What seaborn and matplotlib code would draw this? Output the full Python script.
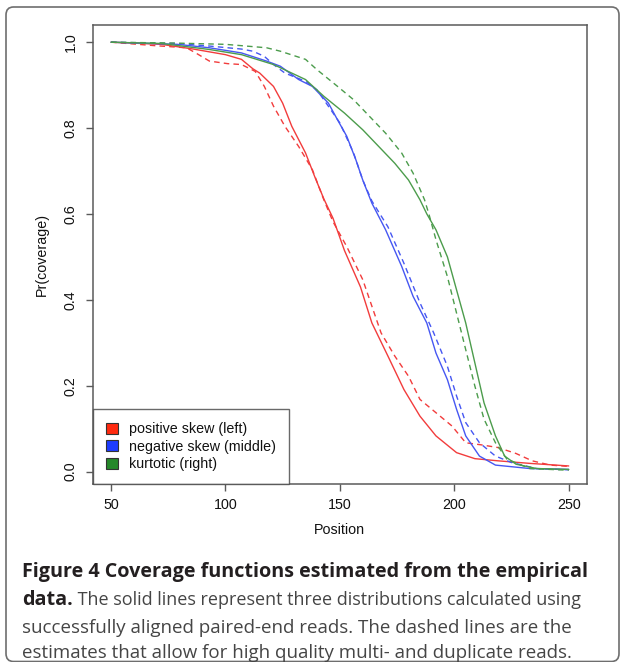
import numpy as np
import pandas as pd
import matplotlib
matplotlib.use("Agg")
import matplotlib.pyplot as plt
from matplotlib.patches import Patch, FancyBboxPatch
import seaborn as sns

# ---- data ----
red_solid_pos = [50, 72, 86, 100, 107, 112, 115, 121, 125, 129, 135, 139, 143, 147, 152, 159, 164, 171, 178, 185, 192, 201, 209, 219, 233, 250]
red_solid_val = [1.0, 0.995, 0.984, 0.971, 0.96, 0.938, 0.928, 0.897, 0.858, 0.804, 0.742, 0.687, 0.635, 0.59, 0.515, 0.43, 0.346, 0.269, 0.191, 0.129, 0.083, 0.044, 0.03, 0.025, 0.019, 0.013]

red_dash_pos = [50, 69, 83, 87, 93, 101, 107, 113, 117, 121, 126, 132, 138, 143, 147, 153, 160, 168, 174, 180, 185, 192, 199, 205, 212, 219, 227, 234, 242, 250]
red_dash_val = [1.0, 0.992, 0.987, 0.975, 0.956, 0.95, 0.948, 0.932, 0.897, 0.851, 0.804, 0.757, 0.703, 0.633, 0.582, 0.524, 0.447, 0.323, 0.269, 0.222, 0.168, 0.137, 0.106, 0.067, 0.062, 0.056, 0.042, 0.025, 0.015, 0.012]

blue_solid_pos = [50, 79, 93, 107, 118, 124, 132, 138, 145, 149, 153, 157, 160, 164, 170, 177, 182, 188, 192, 197, 201, 205, 211, 218, 233, 250]
blue_solid_val = [1.0, 0.995, 0.987, 0.975, 0.956, 0.944, 0.913, 0.897, 0.858, 0.819, 0.781, 0.726, 0.679, 0.625, 0.563, 0.478, 0.408, 0.346, 0.276, 0.214, 0.145, 0.083, 0.036, 0.015, 0.007, 0.005]

blue_dash_pos = [50, 79, 93, 107, 112, 117, 121, 126, 135, 140, 146, 150, 156, 160, 164, 171, 178, 185, 191, 197, 201, 205, 211, 218, 225, 236, 250]
blue_dash_val = [1.0, 0.997, 0.991, 0.984, 0.979, 0.967, 0.948, 0.928, 0.909, 0.889, 0.843, 0.812, 0.742, 0.679, 0.63, 0.57, 0.485, 0.393, 0.323, 0.245, 0.176, 0.114, 0.067, 0.036, 0.021, 0.007, 0.004]

green_solid_pos = [50, 72, 93, 107, 121, 135, 143, 152, 160, 167, 174, 180, 185, 188, 192, 197, 201, 205, 209, 213, 218, 222, 227, 236, 250]
green_solid_val = [1.0, 0.997, 0.983, 0.971, 0.948, 0.913, 0.874, 0.835, 0.796, 0.757, 0.718, 0.679, 0.633, 0.6, 0.563, 0.5, 0.423, 0.346, 0.253, 0.16, 0.083, 0.036, 0.017, 0.007, 0.005]

green_dash_pos = [50, 78, 100, 118, 124, 135, 140, 149, 156, 163, 170, 177, 182, 187, 189, 192, 197, 201, 205, 209, 213, 218, 223, 233, 250]
green_dash_val = [1.0, 0.998, 0.995, 0.987, 0.979, 0.96, 0.936, 0.897, 0.866, 0.827, 0.788, 0.742, 0.695, 0.633, 0.598, 0.54, 0.454, 0.369, 0.284, 0.199, 0.122, 0.067, 0.029, 0.007, 0.003]

categories = ["positive skew (left)", "negative skew (middle)", "kurtotic (right)"]
estimates = ["aligned paired-end", "with multi/duplicate"]
x_ticks = [50, 100, 150, 200, 250]
y_ticks = [0.0, 0.2, 0.4, 0.6, 0.8, 1.0]

series = [
    (categories[0], estimates[0], red_solid_pos, red_solid_val),
    (categories[0], estimates[1], red_dash_pos, red_dash_val),
    (categories[1], estimates[0], blue_solid_pos, blue_solid_val),
    (categories[1], estimates[1], blue_dash_pos, blue_dash_val),
    (categories[2], estimates[0], green_solid_pos, green_solid_val),
    (categories[2], estimates[1], green_dash_pos, green_dash_val),
]
rows = []
for cat, est, xs, ys in series:
    for x, y in zip(xs, ys):
        rows.append({"Position": x, "coverage": y, "dist": cat, "est": est})
df = pd.DataFrame(rows)

# ---- styling ----
sns.set_theme(style="white")
plt.rcParams["font.family"] = ["Liberation Sans", "DejaVu Sans"]

line_colors = {categories[0]: "#F23C3C", categories[1]: "#4657F2", categories[2]: "#4C9C4C"}
patch_colors = ["#FF2A10", "#1E3CFF", "#25882A"]
axis_col = "#5A5A5A"

fig = plt.figure(figsize=(6.24, 6.62), dpi=100)
ax = fig.add_axes([0.1486, 0.2689, 0.7921, 0.6933])

sns.lineplot(data=df, x="Position", y="coverage", hue="dist", style="est",
             palette=line_colors, dashes={estimates[0]: "", estimates[1]: (4, 3)},
             estimator=None, sort=False, linewidth=1.0, legend=False, ax=ax)

ax.set_xlim(42, 258)
ax.set_ylim(-0.029, 1.04)
ax.set_xticks(x_ticks)
ax.set_xticklabels([str(t) for t in x_ticks])
ax.set_yticks(y_ticks)
ax.set_yticklabels([f"{t:.1f}" for t in y_ticks])
ax.set_xlabel("Position", fontsize=10.3, labelpad=8, color="#111111")
ax.set_ylabel("Pr(coverage)", fontsize=10.3, labelpad=11, color="#111111")
for s in ax.spines.values():
    s.set_color(axis_col)
    s.set_linewidth(1.1)
ax.tick_params(axis="both", direction="out", length=5.2, width=1.0, color=axis_col,
               labelsize=10.3, labelcolor="#111111", bottom=True, left=True)
ax.tick_params(axis="x", pad=5)
ax.tick_params(axis="y", pad=5.5, labelrotation=90)
for lab in ax.get_yticklabels():
    lab.set_va("center")

handles = [Patch(facecolor=c, edgecolor="#333333", linewidth=0.8) for c in patch_colors]
leg = ax.legend(handles, categories, loc="lower left", bbox_to_anchor=(0, 0),
                borderaxespad=0, frameon=True, fancybox=False, fontsize=10.3,
                handlelength=0.9, handleheight=0.8, handletextpad=0.75,
                borderpad=0.9, labelspacing=0.24)
leg.get_frame().set_edgecolor("#444444")
leg.get_frame().set_linewidth(1.0)
for t in leg.get_texts():
    t.set_color("#111111")

# ---- outer frame ----
frame = FancyBboxPatch((6 / 624, 1 - 661.5 / 662), 613 / 624, 654.5 / 662,
                       boxstyle="round,pad=0,rounding_size=0.012",
                       transform=fig.transFigure, facecolor="none",
                       edgecolor="#6E6E6E", linewidth=1.2, zorder=0)
fig.patches.append(frame)

# ---- caption ----
cap_font = ["Open Sans", "DejaVu Sans"]
bold_size = 14.2
reg_size = 13.5
x0 = 22 / 624
bold_col = "#231F20"
reg_col = "#454545"
base = [577, 605, 633, 657.5]
fig.text(x0, 1 - base[0] / 662, "Figure 4 Coverage functions estimated from the empirical",
         family=cap_font, weight="bold", fontsize=bold_size, color=bold_col, va="baseline")
t_b = fig.text(x0, 1 - base[1] / 662, "data.", family=cap_font, weight="bold",
               fontsize=bold_size, color=bold_col, va="baseline")
ann = plt.annotate(" The solid lines represent three distributions calculated using",
                   xy=(1, 1 - base[1] / 662), xycoords=(t_b, "figure fraction"),
                   family=cap_font, fontsize=13.0, color=reg_col, va="baseline",
                   annotation_clip=False)
fig.text(x0, 1 - base[2] / 662, "successfully aligned paired-end reads. The dashed lines are the",
         family=cap_font, fontsize=reg_size, color=reg_col, va="baseline")
fig.text(x0, 1 - base[3] / 662, "estimates that allow for high quality multi- and duplicate reads.",
         family=cap_font, fontsize=reg_size, color=reg_col, va="baseline")

fig.savefig("out.png", dpi=100)
